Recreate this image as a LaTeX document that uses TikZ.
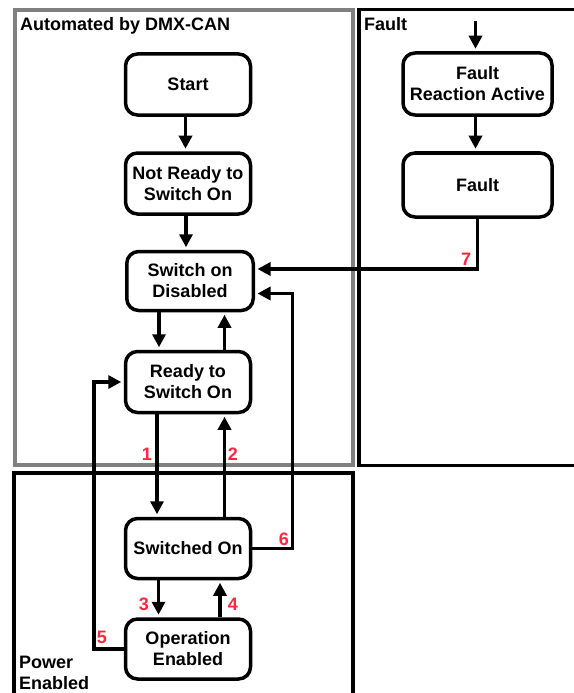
\documentclass[tikz,border=0pt]{standalone}
\usepackage{fontspec}
\setmainfont{Liberation Sans}
\usetikzlibrary{arrows.meta,calc}
\definecolor{framegray}{RGB}{128,128,128}
\definecolor{numred}{RGB}{250,40,65}
\begin{document}
\begin{tikzpicture}[x=1bp,y=-1bp,
  state/.style={draw=black, line width=3.5bp, rounded corners=12bp,
    minimum width=125bp, minimum height=61bp, align=center, inner sep=0pt,
    font=\bfseries\fontsize{18bp}{21bp}\selectfont},
  arr/.style={line width=3.5bp, -{Triangle[length=13bp,width=13bp]}, shorten >=2.5bp},
  num/.style={text=numred, inner sep=0pt, font=\bfseries\fontsize{18bp}{21bp}\selectfont},
  zone/.style={inner sep=0pt, anchor=base west, align=left,
    font=\bfseries\fontsize{18bp}{21bp}\selectfont},
]
\useasboundingbox (0,0) rectangle (574,693);
\fill[white] (0,0) rectangle (574,693);
\clip (0,0) rectangle (574,693);

% region frames
\draw[framegray, line width=4bp] (15,10) rectangle (353,465);
\draw[black, line width=3.5bp] (600,9.5) -- (359,9.5) -- (359,465.5) -- (600,465.5);
\draw[black, line width=3.5bp] (14,720) -- (14,473) -- (353,473) -- (353,720);

\node[zone] (lauto)  at (20,31)  {Automated by DMX-CAN};
\node[zone] (lfault) at (364,31) {Fault};
\node[zone] (lpower) at (19,689) {Power\\Enabled};

% states
\node[state] (start) at (188,84.5)  {Start};
\node[state] (nr)    at (188,183.5) {Not Ready to\\Switch On};
\node[state, minimum width=126.5bp, minimum height=59bp] (sod) at (190,281) {Switch on\\Disabled};
\node[state] (rtso)  at (188,382)   {Ready to\\Switch On};
\node[state, minimum height=60bp] (swon) at (188,548.5) {Switched On};
\node[state, minimum height=60bp] (open) at (188,649)   {Operation\\Enabled};
\node[state, minimum width=149bp, minimum height=62bp] (fra)   at (477.5,84)  {Fault\\Reaction Active};
\node[state, minimum width=149bp, minimum height=64bp] (fault) at (477.5,185) {Fault};

% transitions
\coordinate (faultin) at (475.5,21);
\draw[arr] (faultin) -- ($(fra.north)+(-2,0)$);
\draw[arr] ($(fra.south)+(-2,0)$) -- ($(fault.north)+(-2,0)$);

\draw[arr] ($(start.south)+(-2.5,0)$) -- ($(nr.north)+(-2.5,0)$);
\draw[arr] ($(nr.south)+(-2,0)$) -- ($(sod.north)+(-4,0)$);
\draw[arr] ($(sod.south)+(-31,0)$) -- ($(rtso.north)+(-29,0)$);
\draw[arr] ($(rtso.north)+(36.5,0)$) -- ($(sod.south)+(34.5,0)$);

\draw[arr] ($(rtso.south)+(-31,0)$) -- ($(swon.north)+(-31,0)$);
\draw[arr] ($(swon.north)+(36.5,0)$) -- ($(rtso.south)+(36.5,0)$);
\draw[arr] ($(swon.south)+(-29.5,0)$) -- ($(open.north)+(-29.5,0)$);
\draw[arr] ($(open.north)+(32,0)$) -- ($(swon.south)+(32,0)$);

\draw[arr] (open.west) -- ++(-30,0) |- (rtso.west);
\draw[arr] (swon.east) -- ++(40,0) |- ($(sod.east)+(0,12.5)$);
\draw[arr] (fault.south) |- ($(sod.east)+(0,-12)$);

% transition numbers
\node[num] (n1) at (147,454) {1};
\node[num] (n2) at (233,454) {2};
\node[num] (n3) at (144,604) {3};
\node[num] (n4) at (233,604) {4};
\node[num] (n5) at (102,637) {5};
\node[num] (n6) at (284,539) {6};
\node[num] (n7) at (466,259) {7};
\end{tikzpicture}
\end{document}
